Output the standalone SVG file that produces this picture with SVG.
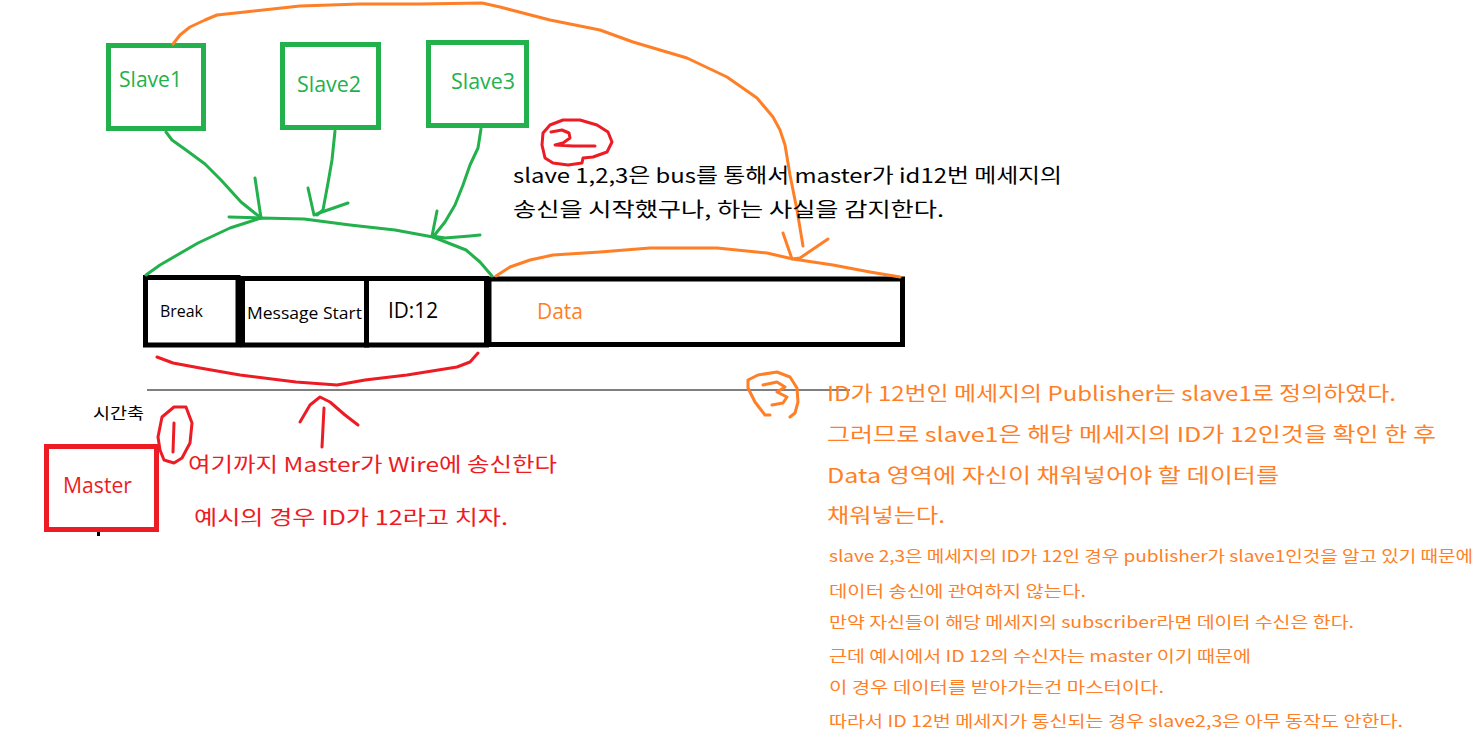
<svg xmlns="http://www.w3.org/2000/svg" width="1478" height="738" viewBox="0 0 1478 738">
<style>
.g{fill:none;stroke:#22b14c;stroke-width:5}
.gl{fill:none;stroke:#22b14c;stroke-width:3;stroke-linecap:round;stroke-linejoin:round}
.ol{fill:none;stroke:#ff7f27;stroke-width:3;stroke-linecap:round;stroke-linejoin:round}
.rl{fill:none;stroke:#ed1c24;stroke-width:3;stroke-linecap:round;stroke-linejoin:round}
.bx{fill:none;stroke:#000;stroke-width:5}
.t{font-family:"Noto Sans CJK KR","Noto Sans",sans-serif}
.lat{font-family:"Open Sans","Noto Sans",sans-serif}
</style>
<rect width="1478" height="738" fill="#fff"/>

<g id="slave1"><rect class="g" x="108.5" y="45.5" width="95" height="83"/><text class="lat" x="119" y="87" font-size="21" fill="#22b14c" textLength="63" lengthAdjust="spacingAndGlyphs">Slave1</text></g>
<g id="slave2"><rect class="g" x="282.5" y="44.5" width="96" height="83"/><text class="lat" x="297" y="92" font-size="21" fill="#22b14c" textLength="64" lengthAdjust="spacingAndGlyphs">Slave2</text></g>
<g id="slave3"><rect class="g" x="428.5" y="42.5" width="98" height="83"/><text class="lat" x="451" y="89" font-size="21" fill="#22b14c" textLength="64" lengthAdjust="spacingAndGlyphs">Slave3</text></g>

<g id="break"><rect class="bx" x="145.5" y="277.5" width="92.5" height="67.5"/><text class="lat" x="160" y="317" font-size="16" fill="#000" textLength="43" lengthAdjust="spacingAndGlyphs">Break</text></g>
<g id="message-start"><rect class="bx" x="242.5" y="278.5" width="124" height="66.5"/><text class="lat" x="247" y="319" font-size="16" fill="#000" textLength="115" lengthAdjust="spacingAndGlyphs">Message Start</text></g>
<g id="id12"><rect class="bx" x="366.5" y="278.5" width="120" height="66.5"/><text class="lat" x="388" y="318" font-size="21" fill="#000" textLength="50" lengthAdjust="spacingAndGlyphs">ID:12</text></g>
<g id="data"><rect class="bx" x="489" y="279" width="413.5" height="65.5"/><text class="lat" x="537" y="319" font-size="21" fill="#ff7f27" textLength="46" lengthAdjust="spacingAndGlyphs">Data</text></g>

<g id="master"><rect x="46.5" y="446.5" width="110" height="83" fill="none" stroke="#ed1c24" stroke-width="5"/><text class="lat" x="63" y="493" font-size="21" fill="#ed1c24" textLength="69" lengthAdjust="spacingAndGlyphs">Master</text><rect x="97" y="532" width="3" height="4" fill="#000"/></g>

<g id="time-axis"><line x1="147" y1="390" x2="850" y2="390" stroke="#000" stroke-width="1.2"/><text class="t" x="93" y="419" font-size="16" fill="#000" textLength="51" lengthAdjust="spacingAndGlyphs">시간축</text></g>

<g id="connectors">
<path class="gl" d="M146,275 L160,265 L198,243 L230,228 L261,218 L304,219 L350,225 L395,230 L433,237 L466,250 L480,262 L492,276"/>
<path class="gl" d="M166,132 L172,140 L186,150 L205,164 L221,180 L241,202 L261,218"/>
<path class="gl" d="M255,178 L261,218 L229,217"/>
<path class="gl" d="M335,131 L332,160 L328,183 L323,210 L317,215"/>
<path class="gl" d="M308,188 L314,215 L322,212 L348,203"/>
<path class="gl" d="M481,129 L478,148 L470,165 L463,185 L455,205 L445,222 L433,237"/>
<path class="gl" d="M437,211 L432,236 L445,238 L470,236 L480,235"/>
<path class="ol" d="M173,44 L180,35 L190,27 L205,20 L217,15 L245,12 L300,6 L360,4 L420,4 L482,3 L500,7 L550,20 L600,30 L633,42 L687,58 L727,77 L757,98 L773,117 L780,130 L785,145 L790,175 L797,210 L803,246"/>
<path class="ol" d="M783,233 L792,259 L800,258 L828,239"/>
<path class="ol" d="M496,276 L510,267 L530,260 L553,255 L600,252 L650,248 L717,248 L767,253 L793,259 L833,265 L870,272 L900,277"/>
<path class="rl" d="M157,357 L173,363 L200,368 L240,375 L296,382 L337,385 L365,380 L407,375 L457,367 L470,362 L478,353"/>
<path class="rl" d="M324,408 L322,447"/>
<path class="rl" d="M300,422 L310,405 L320,397 L330,402 L345,415 L358,425"/>
</g>

<g id="mark1"><path class="rl" d="M160,450 L158,437 L162,417 L174,407 L186,407 L192,423 L190,443 L182,458 L174,463 L164,460 L160,450"/><path class="rl" d="M174,423 L173,452"/></g>
<g id="mark2"><path class="rl" d="M543,133 L550,125 L563,120 L580,120 L597,125 L608,132 L612,142 L607,152 L593,157 L583,158 L582,163 L568,165 L553,163 L545,158 L542,145 L543,133"/><path class="rl" d="M551,132 L562,130 L569,133 L570,138 L563,143 L555,145 L573,146 L595,146"/></g>
<g id="mark3"><path class="ol" d="M748,380 L758,375 L777,372 L790,377 L797,388 L798,402 L795,413 L790,417 M770,415 L765,415 L755,402 L748,388 L748,380"/><path class="ol" d="M763,385 L777,382 L785,387 L777,392 L787,397 L783,403 L772,405"/></g>

<g id="texts">
<text class="t" x="513" y="183" font-size="20" fill="#000" textLength="549" lengthAdjust="spacingAndGlyphs">slave 1,2,3은 bus를 통해서 master가 id12번 메세지의</text>
<text class="t" x="513" y="217" font-size="20" fill="#000" textLength="431" lengthAdjust="spacingAndGlyphs">송신을 시작했구나, 하는 사실을 감지한다.</text>
<text class="t" x="188" y="472" font-size="20" fill="#ed1c24" textLength="369" lengthAdjust="spacingAndGlyphs">여기까지 Master가 Wire에 송신한다</text>
<text class="t" x="194" y="525" font-size="20" fill="#ed1c24" textLength="314" lengthAdjust="spacingAndGlyphs">예시의 경우 ID가 12라고 치자.</text>
<g fill="#ff7f27" font-size="20">
<text class="t" x="827" y="401" textLength="569" lengthAdjust="spacingAndGlyphs">ID가 12번인 메세지의 Publisher는 slave1로 정의하였다.</text>
<text class="t" x="827" y="442" textLength="609" lengthAdjust="spacingAndGlyphs">그러므로 slave1은 해당 메세지의 ID가 12인것을 확인 한 후</text>
<text class="t" x="827" y="483" textLength="452" lengthAdjust="spacingAndGlyphs">Data 영역에 자신이 채워넣어야 할 데이터를</text>
<text class="t" x="827" y="523" textLength="118" lengthAdjust="spacingAndGlyphs">채워넣는다.</text>
</g>
<g fill="#ff7f27" font-size="16">
<text class="t" x="829" y="562" textLength="644" lengthAdjust="spacingAndGlyphs">slave 2,3은 메세지의 ID가 12인 경우 publisher가 slave1인것을 알고 있기 때문에</text>
<text class="t" x="829" y="597" textLength="257" lengthAdjust="spacingAndGlyphs">데이터 송신에 관여하지 않는다.</text>
<text class="t" x="829" y="628" textLength="525" lengthAdjust="spacingAndGlyphs">만약 자신들이 해당 메세지의 subscriber라면 데이터 수신은 한다.</text>
<text class="t" x="829" y="662" textLength="422" lengthAdjust="spacingAndGlyphs">근데 예시에서 ID 12의 수신자는 master 이기 때문에</text>
<text class="t" x="829" y="693" textLength="335" lengthAdjust="spacingAndGlyphs">이 경우 데이터를 받아가는건 마스터이다.</text>
<text class="t" x="829" y="727" textLength="574" lengthAdjust="spacingAndGlyphs">따라서 ID 12번 메세지가 통신되는 경우 slave2,3은 아무 동작도 안한다.</text>
</g>
</g>
</svg>
